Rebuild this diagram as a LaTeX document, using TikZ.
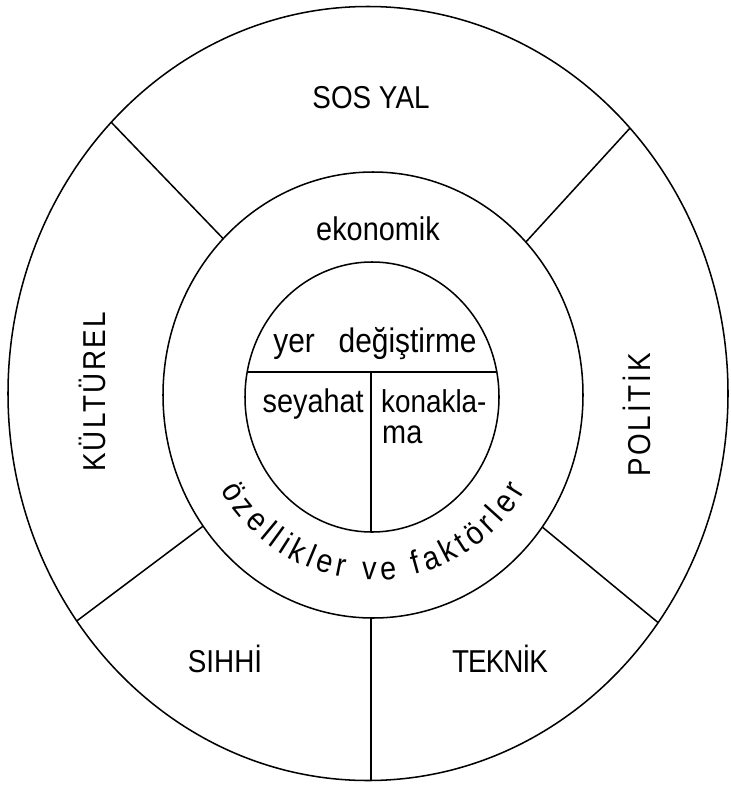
\documentclass[tikz,border=0pt]{standalone}
\usepackage{fontspec}
\newfontfamily\hand[FakeStretch=0.88]{Liberation Sans}
\usetikzlibrary{calc,decorations.text}

\tikzset{
  ring/.style={line width=1.3pt},
  caps/.style={font=\hand\fontsize{27}{30}\selectfont, anchor=base, inner sep=0pt},
  lower/.style={font=\hand\fontsize{28}{30}\selectfont, anchor=base, inner sep=0pt},
}

\begin{document}
\begin{tikzpicture}[x=0.03cm, y=-0.03cm]
\useasboundingbox (0,0) rectangle (731,785);

% the three rings
\coordinate (oc) at (368,393.5);
\coordinate (mc) at (373,395);
\coordinate (ic) at (372,397);
\draw[ring] (oc) ellipse [x radius=360, y radius=387];
\draw[ring] (mc) ellipse [x radius=210, y radius=223];
\draw[ring] (ic) ellipse [x radius=127, y radius=135];

% dividers of the outer ring
\foreach \a/\n in {224.5/ul, 316.7/ur, 144/ll, 36.3/lr} {
  \coordinate (\n o) at ($(oc)+(\a:360 and 387)$);
  \coordinate (\n i) at ($(mc)+(\a:210 and 223)$);
  \draw[ring] (\n o) -- (\n i);
}
\coordinate (bo) at (371,780.5);
\coordinate (bi) at (371,618);
\draw[ring] (bo) -- (bi);

% inner circle split
\coordinate (hl) at (247,372); \coordinate (hr) at (497,372);
\coordinate (vt) at (371,372); \coordinate (vb) at (371,532);
\draw[ring] (hl) -- (hr);
\draw[ring] (vt) -- (vb);

% outer ring labels
\node[caps] (sosyal) at (371,108) {SOS YAL};
\node[caps, rotate=90] (kulturel) at (105,392) {\addfontfeature{LetterSpace=7.5}KÜLTÜREL};
\node[caps, rotate=90] (politik) at (650,415) {\addfontfeature{LetterSpace=9}POLİTİK};
\node[caps] (sihhi) at (225,672) {SIHHİ};
\node[caps] (teknik) at (500,672) {\addfontfeature{LetterSpace=-3}TEKNİK};

% middle ring labels
\node[lower] (ekonomik) at (378,240) {ekonomik};
\path[decorate, decoration={text along path,
    text={|\hand\fontsize{28}{30}\selectfont|özellikler ve faktörler},
    text align={fit to path}}]
  ($(mc)+(149:178 and 185)$) arc [start angle=149, end angle=31, x radius=178, y radius=185];

% inner circle labels
\node[lower] (yer) at (375,352) {\fontsize{29}{30}\selectfont yer\hspace{0.7em}değiştirme};
\node[lower, anchor=base east] (seyahat) at (364,412) {seyahat};
\node[lower, anchor=base west] (konakla) at (381,412) {\fontsize{27}{30}\selectfont konakla-};
\node[lower, anchor=base west] (ma) at (382,443) {ma};
\end{tikzpicture}
\end{document}
